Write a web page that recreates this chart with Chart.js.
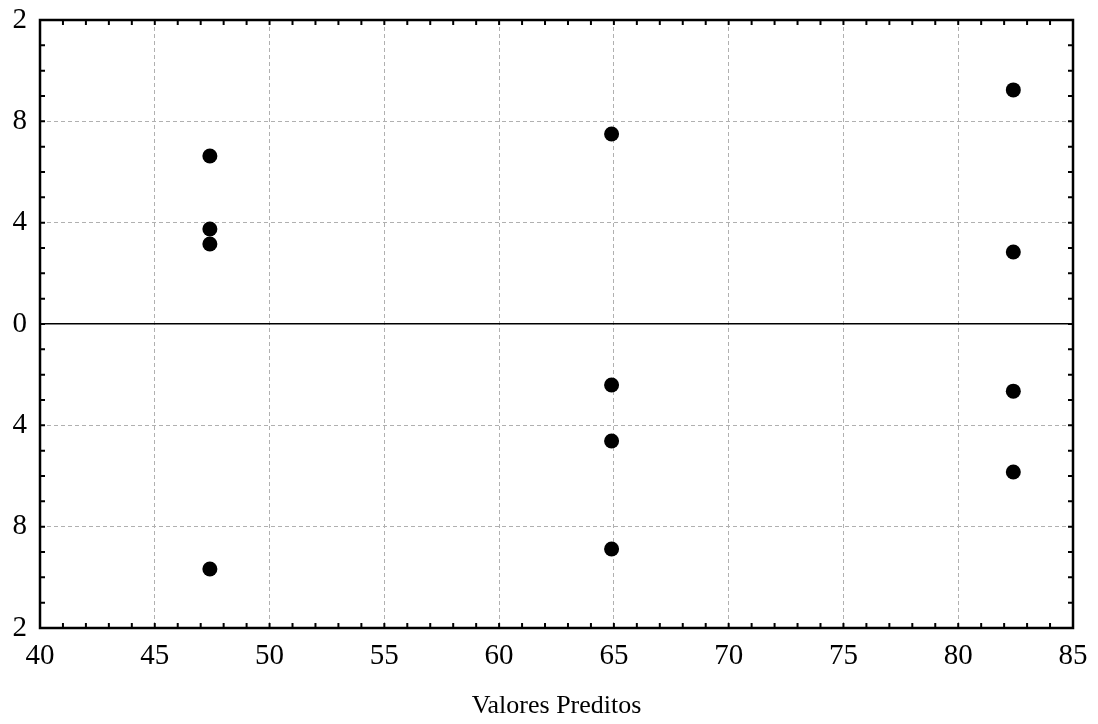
<!DOCTYPE html>
<html>
<head>
<meta charset="utf-8">
<script src="https://cdn.jsdelivr.net/npm/chart.js@4"></script>
<style>
  html, body { margin: 0; padding: 0; background: #fff; }
  #wrap { width: 1098px; height: 724px; }
</style>
</head>
<body>
<div id="wrap"><canvas id="resChart"></canvas></div>
<script>
// predicted values (x) and residuals (y)
const predicted = [47.4, 47.4, 47.4, 47.4, 64.9, 64.9, 64.9, 64.9, 82.4, 82.4, 82.4, 82.4];
const residuals = [6.63, 3.75, 3.16, -9.67, 7.5, -2.41, -4.62, -8.88, 9.24, 2.84, -2.65, -5.84];

// tick labels as printed (left edge of the original is clipped)
const yTickValues = [12, 8, 4, 0, -4, -8, -12];
const yTickLabels = ["2", "8", "4", "0", "4", "8", "2"];
const xTickLabels = ["40", "45", "50", "55", "60", "65", "70", "75", "80", "85"];

const serif = "'Liberation Serif', 'Times New Roman', serif";

// frame + small inward ticks at every unit
const framePlugin = {
  id: "frame",
  afterDraw(chart) {
    const { ctx, chartArea: a, scales } = chart;
    const xs = scales.x, ys = scales.y;
    ctx.save();
    ctx.strokeStyle = "#000";
    ctx.lineWidth = 2;
    ctx.lineCap = "butt";
    ctx.beginPath();
    for (let v = 41; v < 85; v++) {
      const px = xs.getPixelForValue(v);
      ctx.moveTo(px, a.bottom); ctx.lineTo(px, a.bottom - 5);
      ctx.moveTo(px, a.top); ctx.lineTo(px, a.top + 5);
    }
    for (let v = -11; v < 12; v++) {
      const py = ys.getPixelForValue(v);
      ctx.moveTo(a.left, py); ctx.lineTo(a.left + 5, py);
      ctx.moveTo(a.right, py); ctx.lineTo(a.right - 5, py);
    }
    ctx.stroke();
    ctx.lineWidth = 2.5;
    ctx.strokeRect(a.left, a.top, a.right - a.left, a.bottom - a.top);
    ctx.restore();
  }
};

new Chart(document.getElementById("resChart"), {
  type: "scatter",
  data: {
    datasets: [{
      data: predicted.map((x, i) => ({ x: x, y: residuals[i] })),
      backgroundColor: "#000",
      borderColor: "#000",
      borderWidth: 0,
      pointRadius: 7.5,
      pointHoverRadius: 7.5
    }]
  },
  options: {
    responsive: true,
    maintainAspectRatio: false,
    animation: false,
    layout: { padding: { left: 0, right: 25, top: 20, bottom: 0 } },
    plugins: { legend: { display: false }, tooltip: { enabled: false } },
    scales: {
      x: {
        type: "linear",
        min: 40,
        max: 85,
        afterFit: s => { s.height = 96; s.paddingLeft = 0; s.paddingRight = 0; },
        afterBuildTicks: s => { s.ticks = xTickLabels.map(t => ({ value: Number(t) })); },
        ticks: {
          color: "#000",
          padding: 11,
          maxRotation: 0,
          font: { family: serif, size: 29 },
          callback: (v, i) => xTickLabels[i]
        },
        grid: {
          drawTicks: false,
          color: c => (c.tick && (c.tick.value === 40 || c.tick.value === 85)) ? "rgba(0,0,0,0)" : "#b0b0b0",
          lineWidth: 1
        },
        border: { display: false, dash: [4, 3] },
        title: {
          display: true,
          text: "Valores Preditos",
          color: "#000",
          font: { family: serif, size: 26 },
          padding: { top: 0, bottom: 2 }
        }
      },
      y: {
        type: "linear",
        min: -12,
        max: 12,
        afterFit: s => { s.width = 40; s.paddingTop = 0; s.paddingBottom = 0; },
        afterBuildTicks: s => { s.ticks = yTickValues.map(v => ({ value: v })); },
        ticks: {
          color: "#000",
          padding: 13,
          font: { family: serif, size: 29 },
          callback: (v, i) => yTickLabels[i]
        },
        grid: {
          drawTicks: false,
          color: c => {
            if (!c.tick) return "#b0b0b0";
            if (c.tick.value === 0) return "#000";
            if (Math.abs(c.tick.value) === 12) return "rgba(0,0,0,0)";
            return "#b0b0b0";
          },
          lineWidth: c => (c.tick && c.tick.value === 0) ? 1.5 : 1
        },
        border: {
          display: false,
          dash: c => (c.tick && c.tick.value === 0) ? [] : [4, 3]
        }
      }
    }
  },
  plugins: [framePlugin]
});
</script>
</body>
</html>
